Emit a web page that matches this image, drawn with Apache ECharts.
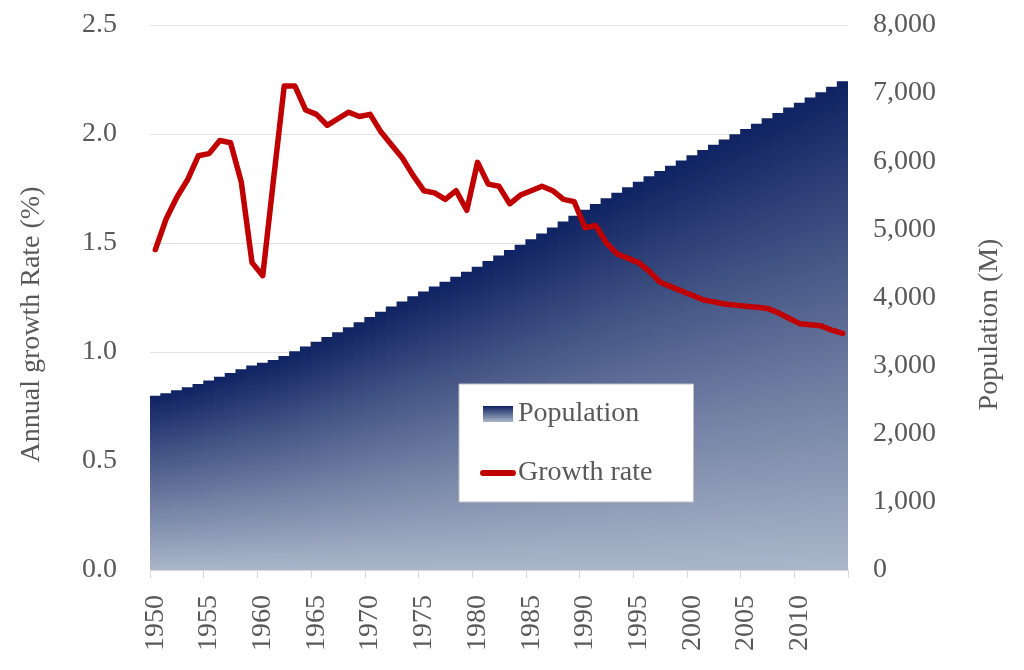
<!DOCTYPE html>
<html>
<head>
<meta charset="utf-8">
<script src="https://cdn.jsdelivr.net/npm/echarts@6/dist/echarts.min.js"></script>
<style>
html,body{margin:0;padding:0;background:#fff;}
#c{width:1024px;height:670px;}
</style>
</head>
<body>
<div id="c"></div>
<script>
const years = ['1950','1951','1952','1953','1954','1955','1956','1957','1958','1959',
'1960','1961','1962','1963','1964','1965','1966','1967','1968','1969',
'1970','1971','1972','1973','1974','1975','1976','1977','1978','1979',
'1980','1981','1982','1983','1984','1985','1986','1987','1988','1989',
'1990','1991','1992','1993','1994','1995','1996','1997','1998','1999',
'2000','2001','2002','2003','2004','2005','2006','2007','2008','2009',
'2010','2011','2012','2013','2014'];

// Population (millions)
const population = [2558,2595,2637,2682,2730,2782,2835,2891,2948,3001,
3043,3084,3140,3210,3281,3350,3421,3490,3562,3637,
3713,3790,3867,3942,4017,4089,4160,4232,4304,4379,
4451,4534,4615,4696,4775,4856,4941,5027,5115,5201,
5289,5372,5456,5538,5619,5699,5779,5858,5935,6012,
6089,6165,6242,6319,6396,6473,6551,6630,6709,6788,
6859,6936,7014,7092,7175];

// Annual growth rate (%)
const growthRate = [1.47,1.61,1.71,1.79,1.90,1.91,1.97,1.96,1.78,1.41,
1.35,1.79,2.22,2.22,2.11,2.09,2.04,2.07,2.10,2.08,
2.09,2.01,1.95,1.89,1.81,1.74,1.73,1.70,1.74,1.65,
1.87,1.77,1.76,1.68,1.72,1.74,1.76,1.74,1.70,1.69,
1.57,1.58,1.50,1.45,1.43,1.41,1.37,1.32,1.30,1.28,
1.26,1.24,1.23,1.22,1.215,1.21,1.205,1.20,1.18,1.155,
1.13,1.125,1.12,1.10,1.085];

const leftTicks = {min:0, max:2.5, interval:0.5};
const rightTicks = {min:0, max:8000, interval:1000};

const FONT = '"Liberation Serif", "Times New Roman", serif';
const TXT = '#595959';

const chart = echarts.init(document.getElementById('c'), null, {renderer:'canvas'});
const mkGrad = () => new echarts.graphic.LinearGradient(0,0,0,1,[
  {offset:0,color:'#0f2262'},
  {offset:1,color:'#aab6c9'}
]);

chart.setOption({
  animation:false,
  backgroundColor:'#ffffff',
  textStyle:{fontFamily:FONT},
  grid:{left:150,right:176,top:25,bottom:100,containLabel:false},
  legend:{
    orient:'vertical',
    left:459, top:384,
    padding:[16,41,15,21],
    itemGap:31,
    itemWidth:30, itemHeight:16,
    backgroundColor:'#ffffff',
    borderColor:'#bfbfbf', borderWidth:1,
    textStyle:{fontFamily:FONT,fontSize:28,color:TXT},
    data:[
      {name:'Population', icon:'rect'},
      {name:'Growth rate', itemStyle:{opacity:0}, lineStyle:{width:6,cap:'round',color:'#c00000'}}
    ]
  },
  xAxis:{
    type:'category',
    data:years,
    boundaryGap:true,
    axisLine:{show:true,lineStyle:{color:'#d9d9d9',width:1}},
    axisTick:{show:true,interval:4,length:8,lineStyle:{color:'#d9d9d9'}},
    axisLabel:{interval:4,rotate:90,margin:25,fontFamily:FONT,fontSize:28,color:TXT},
    splitLine:{show:false}
  },
  yAxis:[{
    type:'value',
    min:leftTicks.min,max:leftTicks.max,interval:leftTicks.interval,
    name:'Annual growth Rate (%)',
    nameLocation:'middle',
    nameRotate:90,
    nameGap:104,
    nameTextStyle:{fontFamily:FONT,fontSize:28,color:TXT,padding:[0,54,0,0]},
    axisLine:{show:false},axisTick:{show:false},
    axisLabel:{margin:33,fontFamily:FONT,fontSize:28,color:TXT,formatter:v=>v.toFixed(1)},
    splitLine:{show:true,lineStyle:{color:'#e3e3e3',width:1}}
  },{
    type:'value',
    min:rightTicks.min,max:rightTicks.max,interval:rightTicks.interval,
    name:'Population (M)',
    nameLocation:'middle',
    nameRotate:90,
    nameGap:128,
    nameTextStyle:{fontFamily:FONT,fontSize:28,color:TXT,padding:[0,54,0,0]},
    axisLine:{show:false},axisTick:{show:false},
    axisLabel:{margin:25,fontFamily:FONT,fontSize:28,color:TXT,
      formatter:v=>v.toLocaleString('en-US')},
    splitLine:{show:false}
  }],
  series:[{
    name:'Population',
    type:'bar',
    yAxisIndex:1,
    data:population,
    barWidth:11.6,
    itemStyle:{color:mkGrad()},
    z:1
  },{
    name:'Growth rate',
    type:'line',
    yAxisIndex:0,
    data:growthRate,
    symbol:'none',
    smooth:false,
    lineStyle:{color:'#c00000',width:5.5,cap:'round',join:'round'},
    itemStyle:{color:'#c00000'},
    z:3
  }]
});
</script>
</body>
</html>
